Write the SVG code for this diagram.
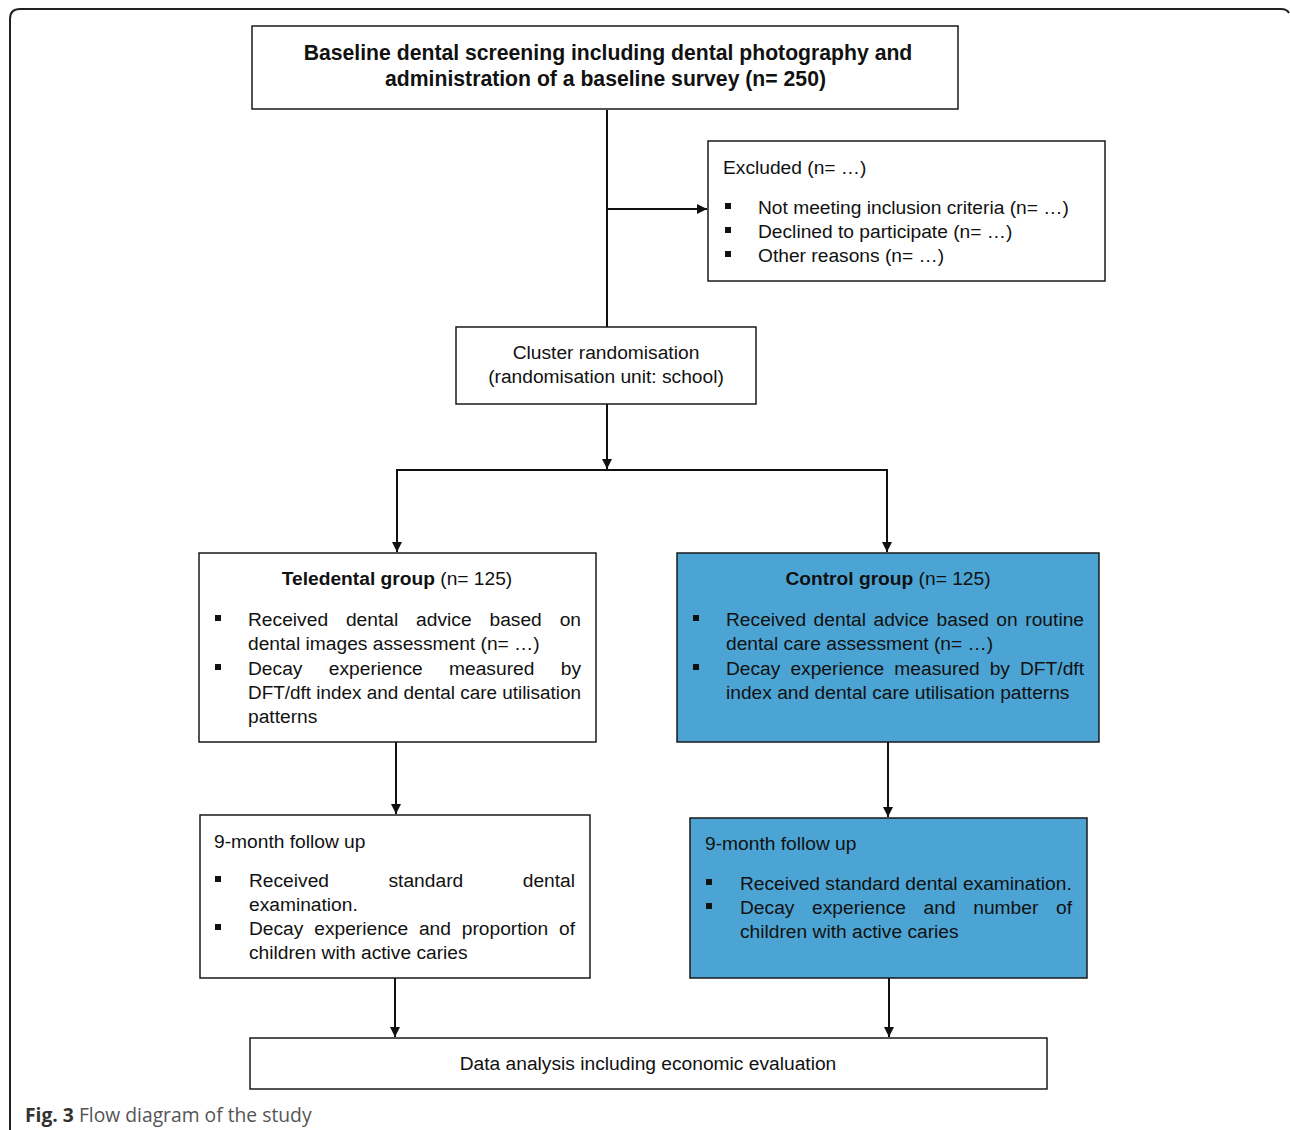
<svg xmlns="http://www.w3.org/2000/svg" width="1290" height="1130" viewBox="0 0 1290 1130">
<style>
.box{fill:#fff;stroke:#1a1a1a;stroke-width:1.5}
.blue{fill:#4BA4D3;stroke:#1a1a1a;stroke-width:1.5}
.t{font-family:"Liberation Sans",Arial,sans-serif;font-size:19.2px;fill:#111}
.title{font-size:21.2px}
.b{font-weight:bold}
.c{text-anchor:middle}
.ln{stroke:#111;stroke-width:2;fill:none}
.blt{fill:#111}
</style>
<defs>
<marker id="ah" markerWidth="10" markerHeight="10" refX="10" refY="5" orient="auto" markerUnits="userSpaceOnUse">
<path d="M0,0 L10,5 L0,10 Z" fill="#111"/>
</marker>
</defs>
<path d="M10,1130 V19 Q10,9 20,9 H1281 Q1287,9 1289,13" fill="none" stroke="#222" stroke-width="2"/>
<g id="connectors">
<line class="ln" x1="607" y1="110" x2="607" y2="327"/>
<line class="ln" x1="607" y1="209" x2="707" y2="209" marker-end="url(#ah)"/>
<line class="ln" x1="607" y1="404" x2="607" y2="469" marker-end="url(#ah)"/>
<polyline class="ln" points="397,552 397,470 887,470 887,552" marker-end="url(#ah)"/>
<line class="ln" x1="397" y1="480" x2="397" y2="552" marker-end="url(#ah)"/>
<line class="ln" x1="396" y1="742" x2="396" y2="814" marker-end="url(#ah)"/>
<line class="ln" x1="888" y1="742" x2="888" y2="817" marker-end="url(#ah)"/>
<line class="ln" x1="395" y1="978" x2="395" y2="1037" marker-end="url(#ah)"/>
<line class="ln" x1="889" y1="978" x2="889" y2="1037" marker-end="url(#ah)"/>
</g>
<g id="baseline">
<rect class="box" x="252" y="26" width="706" height="83"/>
<text class="t title b c" x="608" y="60">Baseline dental screening including dental photography and</text>
<text class="t title b c" x="605.5" y="86">administration of a baseline survey (n= 250)</text>
</g>
<g id="excluded">
<rect class="box" x="708" y="141" width="397" height="140"/>
<text class="t" x="723" y="174">Excluded (n= …)</text>
<rect class="blt" x="725" y="203" width="6" height="6"/>
<text class="t" x="758" y="214">Not meeting inclusion criteria (n= …)</text>
<rect class="blt" x="725" y="227" width="6" height="6"/>
<text class="t" x="758" y="238">Declined to participate (n= …)</text>
<rect class="blt" x="725" y="251" width="6" height="6"/>
<text class="t" x="758" y="262">Other reasons (n= …)</text>
</g>
<g id="randomisation">
<rect class="box" x="456" y="327" width="300" height="77"/>
<text class="t c" x="606" y="359">Cluster randomisation</text>
<text class="t c" x="606" y="383">(randomisation unit: school)</text>
</g>
<g id="teledental">
<rect class="box" x="199" y="553" width="397" height="189"/>
<text class="t c" x="397" y="585"><tspan class="b">Teledental group</tspan> (n= 125)</text>
<rect class="blt" x="215" y="615" width="6" height="6"/>
<text class="t" x="248" y="626" word-spacing="12.5" textLength="333" lengthAdjust="spacing">Received dental advice based on</text>
<text class="t" x="248" y="650">dental images assessment (n= …)</text>
<rect class="blt" x="215" y="664" width="6" height="6"/>
<text class="t" x="248" y="675" word-spacing="21" textLength="333" lengthAdjust="spacing">Decay experience measured by</text>
<text class="t" x="248" y="699" textLength="333" lengthAdjust="spacingAndGlyphs">DFT/dft index and dental care utilisation</text>
<text class="t" x="248" y="723">patterns</text>
</g>
<g id="control">
<rect class="blue" x="677" y="553" width="422" height="189"/>
<text class="t c" x="888" y="585"><tspan class="b">Control group</tspan> (n= 125)</text>
<rect class="blt" x="693" y="615" width="6" height="6"/>
<text class="t" x="726" y="626" word-spacing="2.2" textLength="358" lengthAdjust="spacing">Received dental advice based on routine</text>
<text class="t" x="726" y="650">dental care assessment (n= …)</text>
<rect class="blt" x="693" y="664" width="6" height="6"/>
<text class="t" x="726" y="675" word-spacing="4.7" textLength="358" lengthAdjust="spacing">Decay experience measured by DFT/dft</text>
<text class="t" x="726" y="699">index and dental care utilisation patterns</text>
</g>
<g id="followup-left">
<rect class="box" x="200" y="815" width="390" height="163"/>
<text class="t" x="214" y="848">9-month follow up</text>
<rect class="blt" x="215" y="876" width="6" height="6"/>
<text class="t" x="249" y="887" word-spacing="54.2" textLength="326" lengthAdjust="spacing">Received standard dental</text>
<text class="t" x="249" y="911">examination.</text>
<rect class="blt" x="215" y="924" width="6" height="6"/>
<text class="t" x="249" y="935" word-spacing="5.5" textLength="326" lengthAdjust="spacing">Decay experience and proportion of</text>
<text class="t" x="249" y="959">children with active caries</text>
</g>
<g id="followup-right">
<rect class="blue" x="690" y="818" width="397" height="160"/>
<text class="t" x="705" y="850">9-month follow up</text>
<rect class="blt" x="706" y="879" width="6" height="6"/>
<text class="t" x="740" y="890">Received standard dental examination.</text>
<rect class="blt" x="706" y="903" width="6" height="6"/>
<text class="t" x="740" y="914" word-spacing="12.3" textLength="332" lengthAdjust="spacing">Decay experience and number of</text>
<text class="t" x="740" y="938">children with active caries</text>
</g>
<g id="analysis">
<rect class="box" x="250" y="1038" width="797" height="51"/>
<text class="t c" x="648" y="1070">Data analysis including economic evaluation</text>
</g>
<text x="25" y="1122" font-family="'Open Sans',sans-serif" font-size="19.3" fill="#555"><tspan font-weight="bold" fill="#333">Fig. 3</tspan> Flow diagram of the study</text>
</svg>
